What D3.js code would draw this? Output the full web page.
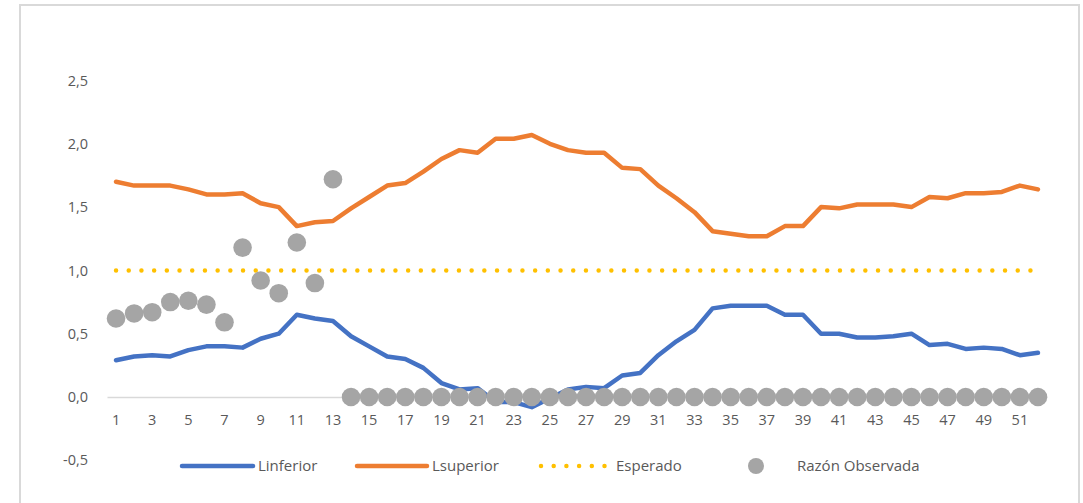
<!DOCTYPE html>
<html>
<head>
<meta charset="utf-8">
<script src="https://cdn.jsdelivr.net/npm/d3@7"></script>
<style>
  body { margin: 0; background: #fff; }
  svg text { font-family: "Open Sans", sans-serif; fill: #595959; }
</style>
</head>
<body>
<div id="chart-area"></div>
<script>
// semanas epidemiologicas
var semanas = d3.range(1, 53);

var linferior = [0.29, 0.32, 0.33, 0.32, 0.37, 0.40, 0.40, 0.39, 0.46, 0.50,
                 0.65, 0.62, 0.60, 0.48, 0.40, 0.32, 0.30, 0.23, 0.11, 0.06,
                 0.07, -0.04, -0.04, -0.08, -0.01, 0.06, 0.08, 0.07, 0.17, 0.19,
                 0.33, 0.44, 0.53, 0.70, 0.72, 0.72, 0.72, 0.65, 0.65, 0.50,
                 0.50, 0.47, 0.47, 0.48, 0.50, 0.41, 0.42, 0.38, 0.39, 0.38,
                 0.33, 0.35];

var lsuperior = [1.70, 1.67, 1.67, 1.67, 1.64, 1.60, 1.60, 1.61, 1.53, 1.50,
                 1.35, 1.38, 1.39, 1.49, 1.58, 1.67, 1.69, 1.78, 1.88, 1.95,
                 1.93, 2.04, 2.04, 2.07, 2.00, 1.95, 1.93, 1.93, 1.81, 1.80,
                 1.67, 1.57, 1.46, 1.31, 1.29, 1.27, 1.27, 1.35, 1.35, 1.50,
                 1.49, 1.52, 1.52, 1.52, 1.50, 1.58, 1.57, 1.61, 1.61, 1.62,
                 1.67, 1.64];

var esperado = semanas.map(function(){ return 1.0; });

var razonObservada = [0.62, 0.66, 0.67, 0.75, 0.76, 0.73, 0.59, 1.18, 0.92, 0.82,
                      1.22, 0.90, 1.72, 0, 0, 0, 0, 0, 0, 0,
                      0, 0, 0, 0, 0, 0, 0, 0, 0, 0,
                      0, 0, 0, 0, 0, 0, 0, 0, 0, 0,
                      0, 0, 0, 0, 0, 0, 0, 0, 0, 0,
                      0, 0];

var yTicks = [-0.5, 0, 0.5, 1.0, 1.5, 2.0, 2.5];
var xTicks = semanas.filter(function(d){ return d % 2 == 1; });

var width = 1083, height = 503;

var svg = d3.select("#chart-area").append("svg")
    .attr("width", width)
    .attr("height", height);

// marco del grafico
svg.append("rect")
    .attr("x", 20).attr("y", 5)
    .attr("width", 1059).attr("height", 600)
    .attr("fill", "#fff")
    .attr("stroke", "#d9d9d9")
    .attr("stroke-width", 2);

var x = d3.scaleBand()
    .domain(semanas)
    .range([107, 1047]);

var y = d3.scaleLinear()
    .domain([-0.5, 2.5])
    .range([460.3, 80.5]);

var cx = function(d){ return x(d) + x.bandwidth() / 2; };
var coma = function(d){ return d3.format(".1f")(d).replace(".", ",").replace("\u2212", "-"); };

// Eje Y
var yAxisCall = d3.axisLeft(y)
    .tickValues(yTicks)
    .tickSize(0)
    .tickPadding(19)
    .tickFormat(coma);

var yAxis = svg.append("g")
    .attr("class", "y axis")
    .attr("transform", "translate(107,0)")
    .call(yAxisCall);
yAxis.select(".domain").remove();
yAxis.selectAll("text").attr("font-size", "14.5px").style("fill", "#595959");

// Eje X
var xAxisCall = d3.axisBottom(x)
    .tickValues(xTicks)
    .tickSize(0)
    .tickSizeOuter(0)
    .tickPadding(18);

var xAxis = svg.append("g")
    .attr("class", "x axis")
    .attr("transform", "translate(0," + y(0) + ")")
    .call(xAxisCall);
xAxis.select(".domain").attr("stroke", "#d9d9d9").attr("stroke-width", 1.5);
xAxis.selectAll("text").attr("font-size", "14.5px").style("fill", "#595959");

var line = function(values){
    return d3.line()
        .x(function(d, i){ return cx(semanas[i]); })
        .y(function(d){ return y(d); })(values);
};

svg.append("path")
    .attr("d", line(linferior))
    .attr("fill", "none")
    .attr("stroke", "#4472c4")
    .attr("stroke-width", 4.5)
    .attr("stroke-linejoin", "round")
    .attr("stroke-linecap", "round");

svg.append("path")
    .attr("d", line(lsuperior))
    .attr("fill", "none")
    .attr("stroke", "#ed7d31")
    .attr("stroke-width", 4.5)
    .attr("stroke-linejoin", "round")
    .attr("stroke-linecap", "round");

svg.append("path")
    .attr("d", line(esperado))
    .attr("fill", "none")
    .attr("stroke", "#ffc000")
    .attr("stroke-width", 4.5)
    .attr("stroke-dasharray", "0 12.7")
    .attr("stroke-linecap", "round");

svg.selectAll("circle.obs")
    .data(razonObservada)
    .enter()
    .append("circle")
    .attr("class", "obs")
    .attr("cx", function(d, i){ return cx(semanas[i]); })
    .attr("cy", function(d){ return y(d); })
    .attr("r", 9.3)
    .attr("fill", "#a5a5a5");

// Leyenda
var ly = 466;
var legend = svg.append("g").attr("class", "legend");

legend.append("line")
    .attr("x1", 182).attr("x2", 253).attr("y1", ly).attr("y2", ly)
    .attr("stroke", "#4472c4").attr("stroke-width", 4.5).attr("stroke-linecap", "round");
legend.append("text").attr("x", 258).attr("y", ly + 5).attr("font-size", "15px").text("Linferior");

legend.append("line")
    .attr("x1", 357).attr("x2", 427).attr("y1", ly).attr("y2", ly)
    .attr("stroke", "#ed7d31").attr("stroke-width", 4.5).attr("stroke-linecap", "round");
legend.append("text").attr("x", 432).attr("y", ly + 5).attr("font-size", "15px").text("Lsuperior");

legend.append("line")
    .attr("x1", 541).attr("x2", 607).attr("y1", ly).attr("y2", ly)
    .attr("stroke", "#ffc000").attr("stroke-width", 4.5)
    .attr("stroke-dasharray", "0 12.7").attr("stroke-linecap", "round");
legend.append("text").attr("x", 616).attr("y", ly + 5).attr("font-size", "15px").text("Esperado");

legend.append("circle")
    .attr("cx", 756).attr("cy", ly).attr("r", 8)
    .attr("fill", "#a5a5a5");
legend.append("text").attr("x", 797).attr("y", ly + 5).attr("font-size", "15px").text("Razón Observada");
</script>
</body>
</html>
